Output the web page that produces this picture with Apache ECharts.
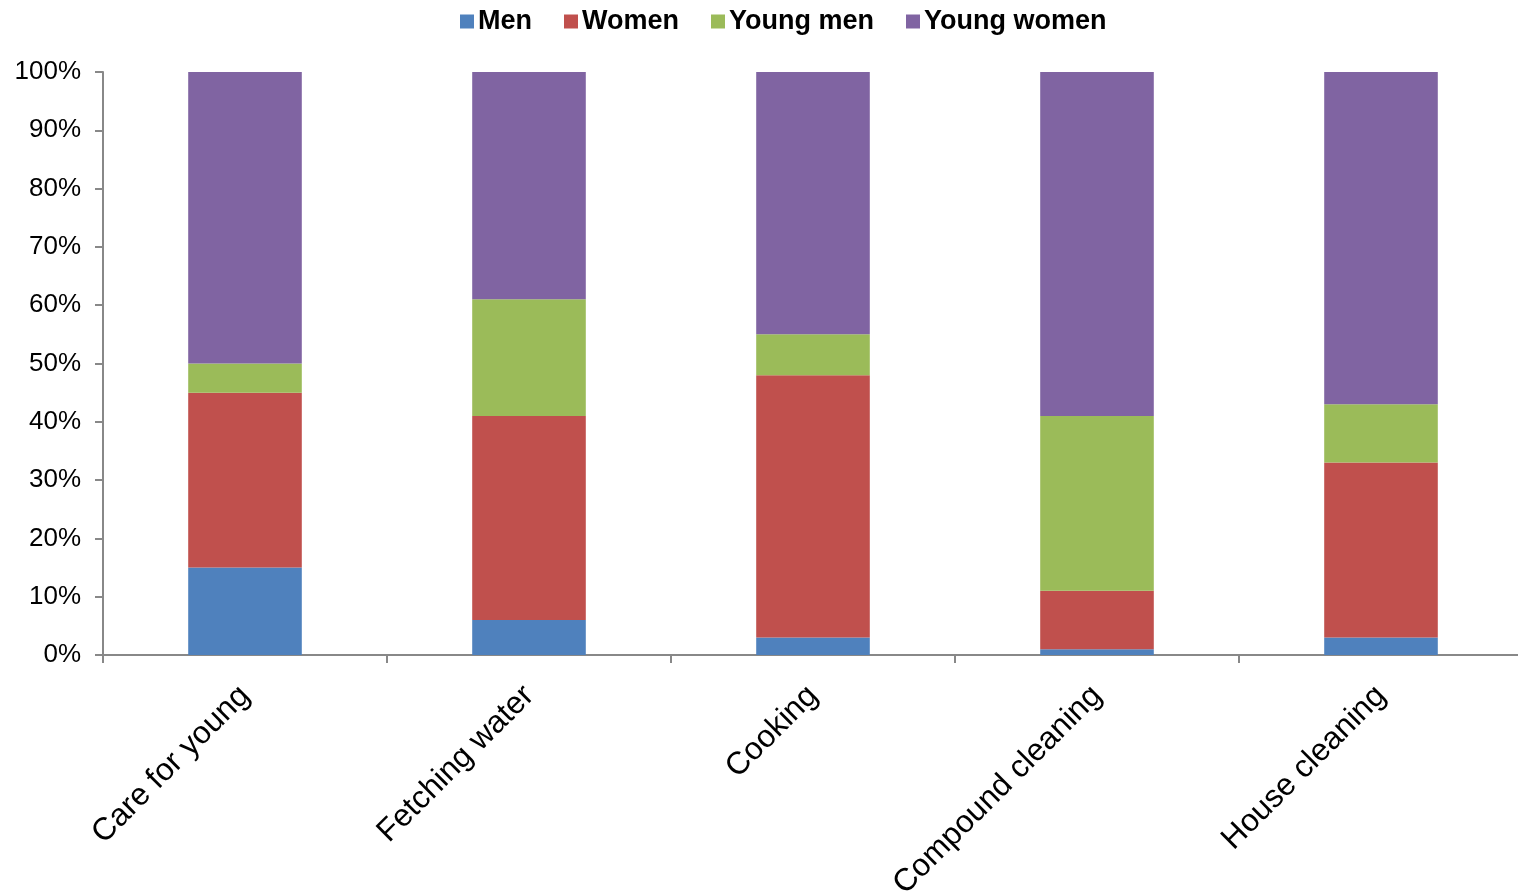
<!DOCTYPE html>
<html><head><meta charset="utf-8">
<script src="https://cdn.jsdelivr.net/npm/echarts@6/dist/echarts.min.js"></script>
<style>html,body{margin:0;padding:0;background:#fff}#c{width:1518px;height:894px}</style>
</head><body><div id="c"></div>
<script>
const categories = ['Care for young', 'Fetching water', 'Cooking', 'Compound cleaning', 'House cleaning'];
const men = [15, 6, 3, 1, 3];
const women = [30, 35, 45, 10, 30];
const youngMen = [5, 20, 7, 30, 10];
const youngWomen = [50, 39, 45, 59, 57];
const yTicks = [0, 10, 20, 30, 40, 50, 60, 70, 80, 90, 100];

const font = 'Liberation Sans, Arial, sans-serif';
const chart = echarts.init(document.getElementById('c'));
function s(name, data, color) {
  return { name, type: 'bar', stack: 'all', data, barWidth: '40%',
    itemStyle: { color }, emphasis: { disabled: true } };
}
chart.setOption({
  animation: false,
  legend: {
    top: 3, left: 455, itemWidth: 14, itemHeight: 14, itemGap: 32, icon: 'rect',
    textStyle: { fontFamily: font, fontWeight: 'bold', fontSize: 27, color: '#000', padding: [0, 0, 0, -1] }
  },
  grid: { left: 103, right: -5, top: 72, bottom: 239, containLabel: false, outerBoundsMode: 'none' },
  xAxis: {
    type: 'category', data: categories,
    axisLine: { lineStyle: { color: '#888', width: 2 } },
    axisTick: { show: true, length: 8, lineStyle: { color: '#888', width: 2 } },
    axisLabel: { rotate: 45, fontFamily: font, fontSize: 31.5, color: '#000', margin: 36, interval: 0 },
    splitLine: { show: false }
  },
  yAxis: {
    type: 'value', min: 0, max: 100, interval: 10,
    axisLine: { show: true, lineStyle: { color: '#888', width: 2 } },
    axisTick: { show: true, length: 8, lineStyle: { color: '#888', width: 2 } },
    axisLabel: { fontFamily: font, fontSize: 26, color: '#000', margin: 22,
      formatter: v => yTicks.includes(v) ? v + '%' : '' },
    splitLine: { show: false }
  },
  series: [
    s('Men', men, '#4F81BD'),
    s('Women', women, '#C0504D'),
    s('Young men', youngMen, '#9BBB59'),
    s('Young women', youngWomen, '#8064A2')
  ]
});
</script></body></html>
